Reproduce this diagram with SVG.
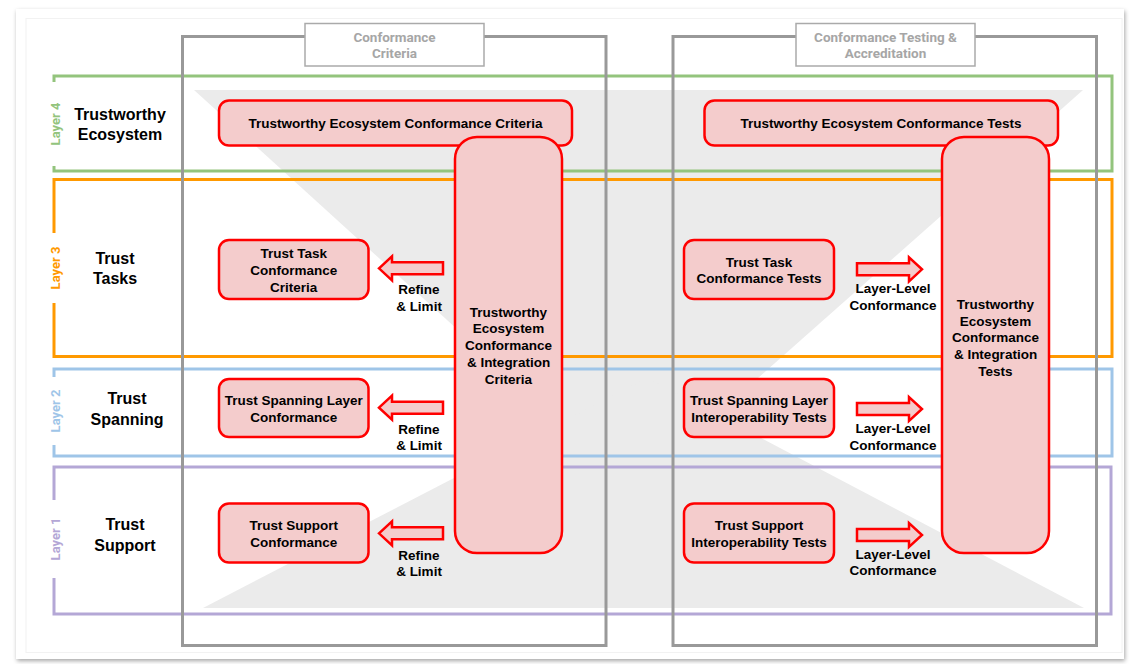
<svg xmlns="http://www.w3.org/2000/svg" width="1131" height="664" viewBox="0 0 1131 664">
<defs>
<filter id="sh" x="-5%" y="-5%" width="110%" height="110%">
<feDropShadow dx="1" dy="2" stdDeviation="2" flood-color="#000" flood-opacity="0.35"/>
</filter>
</defs>
<style>
.box{fill:#f4cccc;stroke:#ff0000;stroke-width:2.5}
.arr{fill:#f4cccc;stroke:#ff0000;stroke-width:2.5;stroke-linejoin:miter}
.t{font-family:"Liberation Sans",Arial,sans-serif;font-weight:bold;font-size:13.5px;fill:#000;text-anchor:middle}
.rl{font-family:"Liberation Sans",Arial,sans-serif;font-weight:bold;font-size:16px;fill:#000;text-anchor:middle}
.hd{font-family:Roboto,"Liberation Sans",sans-serif;font-weight:bold;font-size:13.5px;fill:#a6a6a6;text-anchor:middle}
.ll{font-family:Roboto,"Liberation Sans",sans-serif;font-weight:bold;font-size:13px;text-anchor:middle}
.lay{fill:none;stroke-width:3}
.col{fill:none;stroke:#999999;stroke-width:3}
.hbox{fill:#fff;stroke:#aaaaaa;stroke-width:1.5}
</style>
<rect x="0" y="0" width="1131" height="664" fill="#fff"/>
<rect x="16" y="9" width="1108" height="650" fill="#fff" filter="url(#sh)"/>
<rect x="26" y="18.5" width="1096" height="634" fill="none" stroke="#f2f2f2" stroke-width="1"/>

<g id="background">
<polygon points="194,90 1083,90 633,489" fill="#ebebeb"/>
<polygon points="203,608 1084,608 647,378" fill="#ebebeb"/>
</g>

<g id="layer4">
<path class="lay" stroke="#93c47d" d="M54,82 V76 H1112 V171 H54 V166"/>
<text class="ll" fill="#93c47d" transform="translate(59.6,124) rotate(-90)">Layer 4</text>
<text class="rl" x="120" y="119.7">Trustworthy</text>
<text class="rl" x="120" y="139.7">Ecosystem</text>
</g>
<g id="layer3">
<path class="lay" stroke="#ff9900" d="M54,233 V179.5 H1112 V356.5 H54 V303"/>
<text class="ll" fill="#ff9900" transform="translate(59.6,268) rotate(-90)">Layer 3</text>
<text class="rl" x="115" y="263.7">Trust</text>
<text class="rl" x="115" y="284">Tasks</text>
</g>
<g id="layer2">
<path class="lay" stroke="#9fc5e8" d="M54,377 V369 H1112 V456 H54 V445"/>
<text class="ll" fill="#9fc5e8" transform="translate(59.6,411) rotate(-90)">Layer 2</text>
<text class="rl" x="127" y="403.7">Trust</text>
<text class="rl" x="127" y="424.7">Spanning</text>
</g>
<g id="layer1">
<path class="lay" stroke="#b4a7d6" d="M54,500 V467 H1111 V614 H54 V578"/>
<text class="ll" fill="#b4a7d6" transform="translate(59.6,539) rotate(-90)">Layer 1</text>
<text class="rl" x="125" y="529.7">Trust</text>
<text class="rl" x="125" y="550.7">Support</text>
</g>

<g id="col-criteria">
<rect class="col" x="182.5" y="36.5" width="423.5" height="609"/>
<rect class="hbox" x="305" y="23.5" width="179" height="42.5"/>
<text class="hd" x="394.5" y="41.5">Conformance</text>
<text class="hd" x="394.5" y="58">Criteria</text>
</g>
<g id="col-testing">
<rect class="col" x="673" y="36.5" width="423.5" height="609"/>
<rect class="hbox" x="796" y="23.5" width="179" height="42.5"/>
<text class="hd" x="885.5" y="41.5">Conformance Testing &amp;</text>
<text class="hd" x="885.5" y="58">Accreditation</text>
</g>

<g id="te-criteria">
<rect class="box" x="219" y="100.5" width="353" height="45" rx="10"/>
<text class="t" x="395.5" y="128">Trustworthy Ecosystem Conformance Criteria</text>
</g>
<g id="te-tests">
<rect class="box" x="704.5" y="100.5" width="353.5" height="45" rx="10"/>
<text class="t" x="881" y="128">Trustworthy Ecosystem Conformance Tests</text>
</g>

<g id="te-integration-criteria">
<rect class="box" x="455" y="137" width="107" height="416" rx="22"/>
<text class="t" x="508.5" y="316.7">Trustworthy</text>
<text class="t" x="508.5" y="333.3">Ecosystem</text>
<text class="t" x="508.5" y="350">Conformance</text>
<text class="t" x="508.5" y="366.7">&amp; Integration</text>
<text class="t" x="508.5" y="383.5">Criteria</text>
</g>
<g id="te-integration-tests">
<rect class="box" x="942" y="137" width="107" height="416" rx="22"/>
<text class="t" x="995.5" y="309">Trustworthy</text>
<text class="t" x="995.5" y="325.7">Ecosystem</text>
<text class="t" x="995.5" y="342">Conformance</text>
<text class="t" x="995.5" y="358.7">&amp; Integration</text>
<text class="t" x="995.5" y="375.7">Tests</text>
</g>

<g id="tt-criteria">
<rect class="box" x="219" y="240" width="149.5" height="59" rx="10"/>
<text class="t" x="293.7" y="258.3">Trust Task</text>
<text class="t" x="293.7" y="275">Conformance</text>
<text class="t" x="293.7" y="292">Criteria</text>
</g>
<g id="ts-criteria">
<rect class="box" x="219" y="379" width="149.5" height="58" rx="10"/>
<text class="t" x="293.7" y="405">Trust Spanning Layer</text>
<text class="t" x="293.7" y="421.7">Conformance</text>
</g>
<g id="tsup-criteria">
<rect class="box" x="219" y="503.5" width="149.5" height="59" rx="10"/>
<text class="t" x="293.7" y="530">Trust Support</text>
<text class="t" x="293.7" y="546.7">Conformance</text>
</g>

<g id="tt-tests">
<rect class="box" x="684" y="240" width="150" height="59" rx="10"/>
<text class="t" x="759" y="266.7">Trust Task</text>
<text class="t" x="759" y="283.3">Conformance Tests</text>
</g>
<g id="ts-tests">
<rect class="box" x="684" y="379" width="150" height="58" rx="10"/>
<text class="t" x="759" y="405">Trust Spanning Layer</text>
<text class="t" x="759" y="421.7">Interoperability Tests</text>
</g>
<g id="tsup-tests">
<rect class="box" x="684" y="503.5" width="150" height="59" rx="10"/>
<text class="t" x="759" y="530">Trust Support</text>
<text class="t" x="759" y="546.7">Interoperability Tests</text>
</g>

<g id="connectors">
<polygon class="arr" points="379,268.3 392,256.3 392,262.3 443,262.3 443,274.3 392,274.3 392,280.3"/>
<polygon class="arr" points="379,407.7 392,395.7 392,401.7 443,401.7 443,413.7 392,413.7 392,419.7"/>
<polygon class="arr" points="379,533.3 392,521.3 392,527.3 443,527.3 443,539.3 392,539.3 392,545.3"/>
<text class="t" x="419" y="294">Refine</text>
<text class="t" x="419" y="310.7">&amp; Limit</text>
<text class="t" x="419" y="433.7">Refine</text>
<text class="t" x="419" y="450">&amp; Limit</text>
<text class="t" x="419" y="560">Refine</text>
<text class="t" x="419" y="575.7">&amp; Limit</text>
<polygon class="arr" points="857,263.3 909,263.3 909,257.3 922,269.3 909,281.3 909,275.3 857,275.3"/>
<polygon class="arr" points="857,403 909,403 909,397 922,409 909,421 909,415 857,415"/>
<polygon class="arr" points="857,529 909,529 909,523 922,535 909,547 909,541 857,541"/>
<text class="t" x="893" y="293.3">Layer-Level</text>
<text class="t" x="893" y="310">Conformance</text>
<text class="t" x="893" y="433.3">Layer-Level</text>
<text class="t" x="893" y="450">Conformance</text>
<text class="t" x="893" y="559.3">Layer-Level</text>
<text class="t" x="893" y="575">Conformance</text>
</g>
</svg>
